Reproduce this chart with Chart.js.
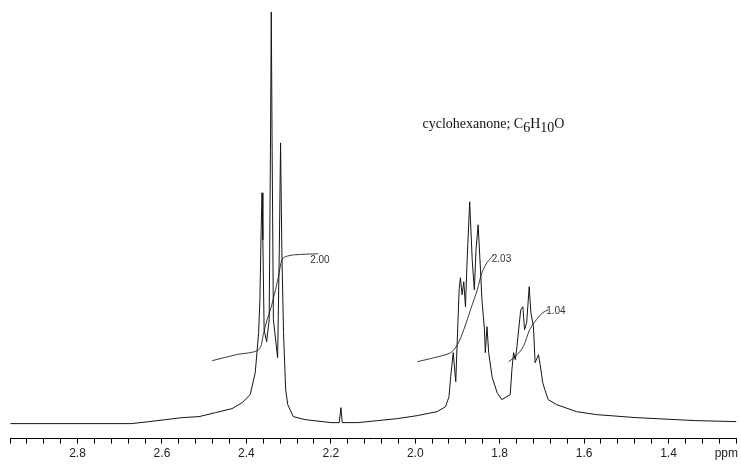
<!DOCTYPE html>
<html>
<head>
<meta charset="utf-8">
<style>
  html, body { margin: 0; padding: 0; background: #fff; }
  #spec { display: block; }
</style>
<script src="https://cdn.jsdelivr.net/npm/chart.js@4.4.1/dist/chart.umd.min.js"></script>
</head>
<body>
<canvas id="spec" width="741" height="469"></canvas>
<script>
'use strict';

// spectrum trace (ppm, relative intensity)
const specPpm = [
  2.959, 2.673, 2.630, 2.591, 2.552, 2.512, 2.473, 2.434, 2.410, 2.391,
  2.379, 2.371, 2.368, 2.365, 2.363, 2.361, 2.358, 2.352, 2.346, 2.343,
  2.341, 2.339, 2.336, 2.326, 2.322, 2.319, 2.316, 2.312, 2.307, 2.302,
  2.289, 2.261, 2.199, 2.180, 2.176, 2.173, 2.136, 2.089, 2.042, 1.995,
  1.948, 1.928, 1.920, 1.916, 1.910, 1.904, 1.896, 1.893, 1.889, 1.885,
  1.881, 1.877, 1.871, 1.865, 1.860, 1.856, 1.851, 1.846, 1.842, 1.836,
  1.834, 1.830, 1.826, 1.818, 1.806, 1.795, 1.783, 1.775, 1.771, 1.767,
  1.763, 1.759, 1.755, 1.750, 1.745, 1.741, 1.736, 1.730, 1.726, 1.720,
  1.716, 1.708, 1.704, 1.698, 1.693, 1.685, 1.665, 1.618, 1.571, 1.477,
  1.336, 1.239
];
const specInt = [
  15, 15, 17, 19, 21, 22, 26, 30, 36, 44,
  66, 106, 139, 209, 246, 199, 109, 97, 119, 289,
  427, 289, 119, 81, 189, 296, 189, 106, 49, 34,
  22, 19, 16, 16, 31, 16, 16, 18, 20, 23,
  27, 32, 42, 62, 86, 57, 149, 161, 144, 157,
  132, 179, 237, 179, 149, 189, 214, 174, 139, 109,
  86, 112, 86, 62, 46, 39, 42, 44, 69, 86,
  79, 92, 109, 129, 132, 109, 116, 152, 126, 112,
  76, 84, 74, 56, 49, 39, 34, 27, 24, 21,
  18, 17
];

// integral curves
const intAPpm = [2.481, 2.424, 2.371, 2.359, 2.351, 2.343, 2.331, 2.324, 2.316, 2.308, 2.285, 2.230];
const intAVal = [78, 84, 89, 106, 119, 129, 149, 162, 179, 182, 184, 185];
const intBPpm = [1.995, 1.955, 1.916, 1.900, 1.885, 1.869, 1.853, 1.842, 1.830, 1.814];
const intBVal = [77, 81, 86, 94, 109, 129, 149, 166, 176, 184];
const intCPpm = [1.779, 1.763, 1.744, 1.729, 1.713, 1.698, 1.685];
const intCVal = [77, 82, 92, 109, 119, 126, 129];
const integralLabels = ['2.00', '2.03', '1.04'];

// axis
const tickLabels = [2.8, 2.6, 2.4, 2.2, 2.0, 1.8, 1.6, 1.4];
const minorStep = 0.04;
const unitPos = 1.263;

const xy = (xs, ys) => xs.map((v, i) => ({ x: v, y: ys[i] }));

const tickValues = [];
for (let k = 74; k >= 31; k--) tickValues.push(+(k * minorStep).toFixed(2));
tickValues.push(unitPos);

const isMajor = v => tickLabels.some(t => Math.abs(t - v) < 1e-6);

// integral numbers + compound name
const annotate = {
  id: 'annotate',
  afterDatasetsDraw(chart) {
    const { ctx, scales: { x, y } } = chart;
    const curves = [[intAPpm, intAVal], [intBPpm, intBVal], [intCPpm, intCVal]];
    const offs = [[-8, 6], [-2, 4], [-2, 1.5]];
    ctx.save();
    ctx.font = '10px "Liberation Sans", Arial, sans-serif';
    ctx.fillStyle = '#333';
    ctx.textBaseline = 'middle';
    curves.forEach((c, i) => {
      const n = c[0].length - 1;
      const px = x.getPixelForValue(c[0][n]);
      const py = y.getPixelForValue(c[1][n]);
      ctx.fillText(integralLabels[i], px + offs[i][0], py + offs[i][1]);
    });

    // cyclohexanone; C6H10O
    const parts = [['cyclohexanone; C', 0], ['6', 4], ['H', 0], ['10', 4], ['O', 0]];
    ctx.font = '14px "Liberation Serif", "Times New Roman", serif';
    ctx.fillStyle = '#111';
    ctx.textBaseline = 'alphabetic';
    let tx = 422.5;
    parts.forEach(p => {
      ctx.fillText(p[0], tx, 127.5 + p[1]);
      tx += ctx.measureText(p[0]).width;
    });
    ctx.restore();
  }
};

new Chart(document.getElementById('spec').getContext('2d'), {
  type: 'line',
  data: {
    datasets: [
      { data: xy(specPpm, specInt), borderColor: '#151515', borderWidth: 1, pointRadius: 0, tension: 0, fill: false },
      { data: xy(intAPpm, intAVal), borderColor: '#3a3a3a', borderWidth: 1, pointRadius: 0, tension: 0.3, fill: false },
      { data: xy(intBPpm, intBVal), borderColor: '#3a3a3a', borderWidth: 1, pointRadius: 0, tension: 0.3, fill: false },
      { data: xy(intCPpm, intCVal), borderColor: '#3a3a3a', borderWidth: 1, pointRadius: 0, tension: 0.3, fill: false }
    ]
  },
  options: {
    responsive: false,
    animation: false,
    devicePixelRatio: 1,
    layout: { padding: { left: 10, right: 0, top: 0, bottom: 5 } },
    plugins: { legend: { display: false }, tooltip: { enabled: false } },
    scales: {
      x: {
        type: 'linear',
        reverse: true,
        min: 1.239,
        max: 2.96,
        afterBuildTicks: s => { s.ticks = tickValues.map(v => ({ value: v })); },
        ticks: {
          autoSkip: false,
          maxRotation: 0,
          padding: 3,
          color: '#222',
          font: { family: '"Liberation Sans", Arial, sans-serif', size: 12 },
          callback: v => {
            if (Math.abs(v - unitPos) < 1e-6) return 'ppm';
            return isMajor(v) ? v.toFixed(1) : '';
          }
        },
        grid: {
          drawOnChartArea: false,
          drawTicks: true,
          tickLength: 5,
          tickColor: c => (c.tick && Math.abs(c.tick.value - unitPos) < 1e-6) ? 'rgba(0,0,0,0)' : '#000'
        },
        border: { display: true, color: '#000', width: 1 }
      },
      y: { display: false, min: 0, max: 439 }
    }
  },
  plugins: [annotate]
});
</script>
</body>
</html>
